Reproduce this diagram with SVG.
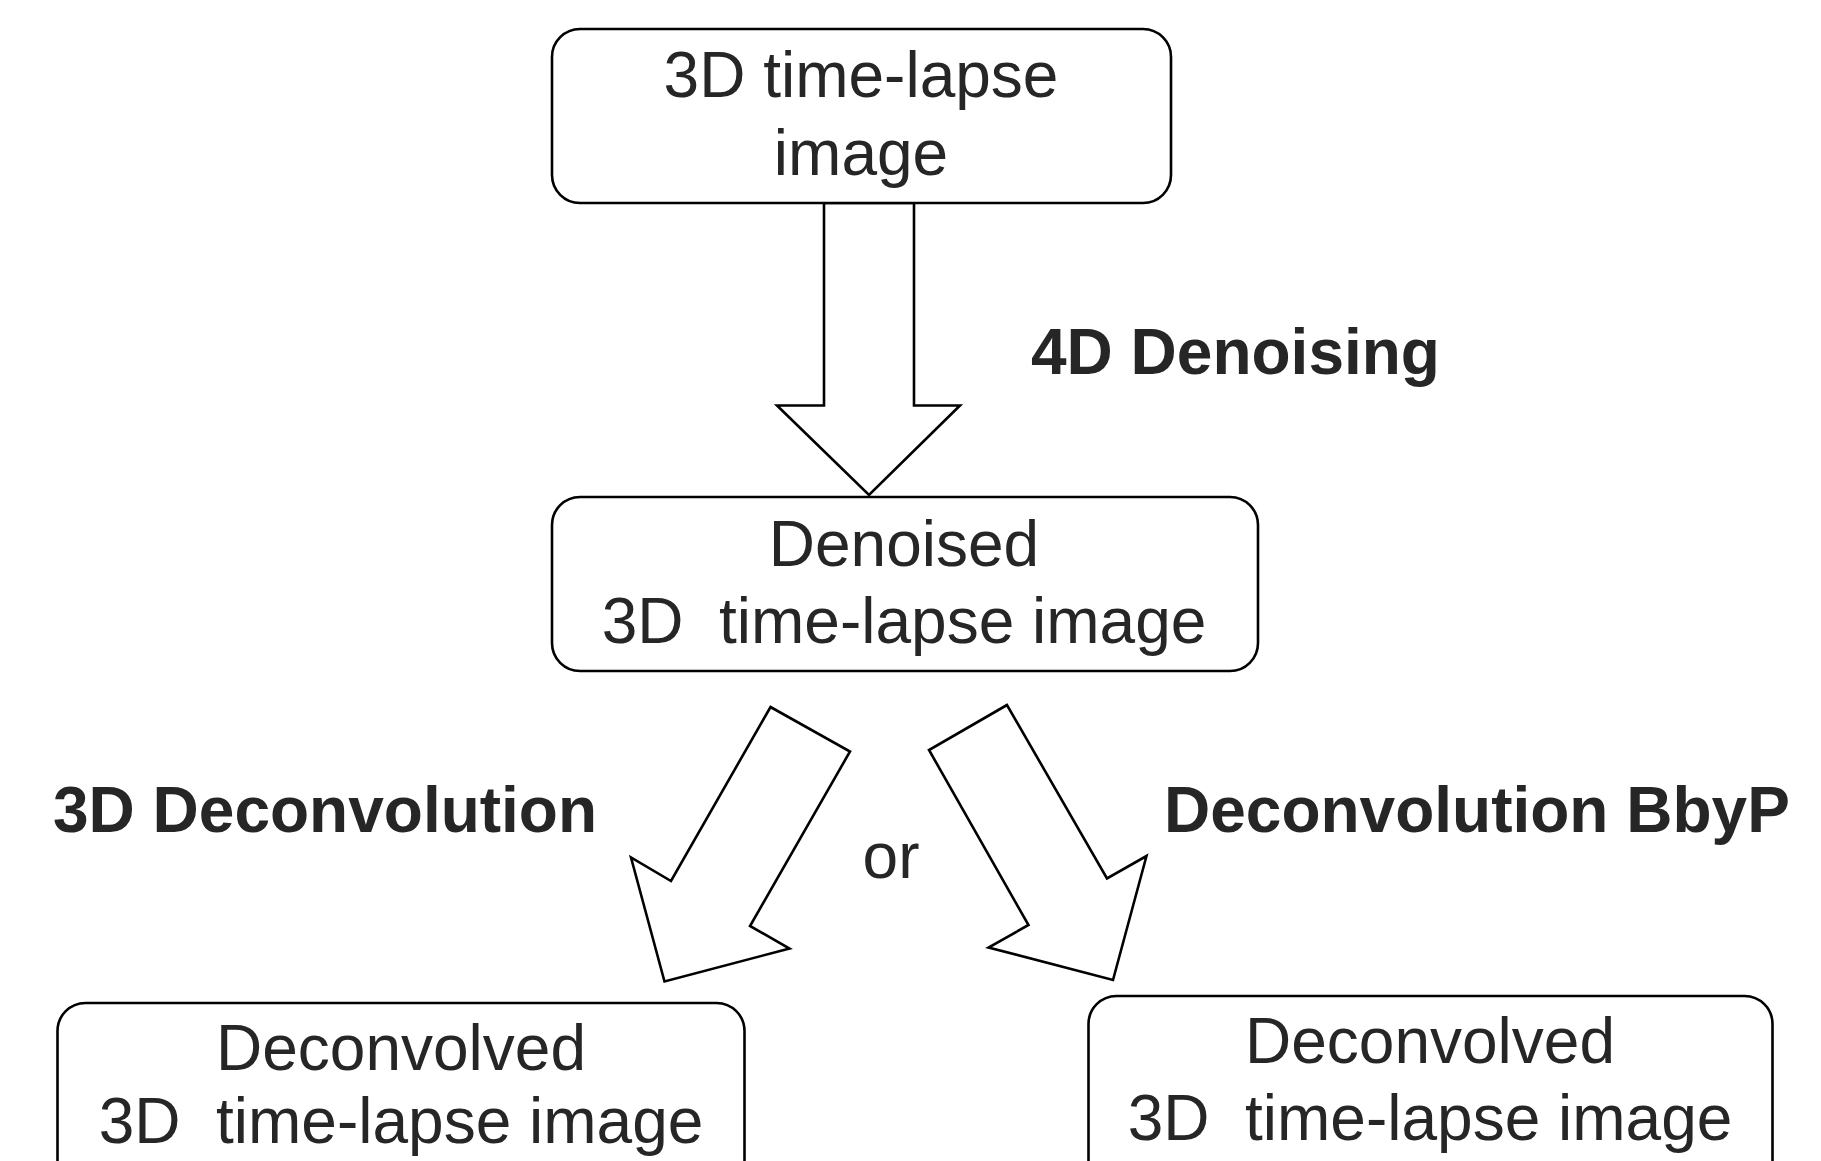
<svg xmlns="http://www.w3.org/2000/svg" width="1821" height="1161" viewBox="0 0 1821 1161">
<style>
.box{fill:#fff;stroke:#000;stroke-width:2.6}
.arr{fill:#fff;stroke:#000;stroke-width:2.6;stroke-linejoin:miter}
.t{font-family:"Liberation Sans",Arial,sans-serif;font-size:64px;fill:#262626;text-anchor:middle}
.b{font-family:"Liberation Sans",Arial,sans-serif;font-size:64px;font-weight:bold;fill:#262626}
</style>
<rect width="1821" height="1161" fill="#fff"/>
<g id="connectors">
<polygon class="arr" points="824,203 914,203 914,405.5 960,405.5 869,495 777,405.5 824,405.5"/>
<polygon class="arr" points="770.5,707 850,751.5 750,926 789.5,948.5 664.5,981.5 631,857.5 671,881"/>
<polygon class="arr" points="1007,705 929,750 1028.5,925 988.5,947.5 1113,980 1146.5,856 1107,878.5"/>
</g>
<g id="node-top">
<rect class="box" x="552" y="29" width="619" height="174" rx="28" ry="28"/>
<text class="t" x="861" y="97">3D time-lapse</text>
<text class="t" x="861" y="175">image</text>
</g>
<g id="node-denoised">
<rect class="box" x="552" y="497" width="706" height="174" rx="28" ry="28"/>
<text class="t" x="904" y="566">Denoised</text>
<text class="t" x="904" y="643" xml:space="preserve">3D  time-lapse image</text>
</g>
<g id="node-deconv3d">
<rect class="box" x="57.5" y="1003" width="687" height="185" rx="28" ry="28"/>
<text class="t" x="401" y="1070">Deconvolved</text>
<text class="t" x="401" y="1143" xml:space="preserve">3D  time-lapse image</text>
</g>
<g id="node-deconvbbyp">
<rect class="box" x="1088.5" y="996" width="684" height="192" rx="28" ry="28"/>
<text class="t" x="1430" y="1063">Deconvolved</text>
<text class="t" x="1430" y="1140" xml:space="preserve">3D  time-lapse image</text>
</g>
<g id="labels">
<text class="b" x="1031" y="374">4D Denoising</text>
<text class="b" x="53" y="832">3D Deconvolution</text>
<text class="b" x="1164" y="832">Deconvolution BbyP</text>
<text class="t" x="891" y="878">or</text>
</g>
</svg>
